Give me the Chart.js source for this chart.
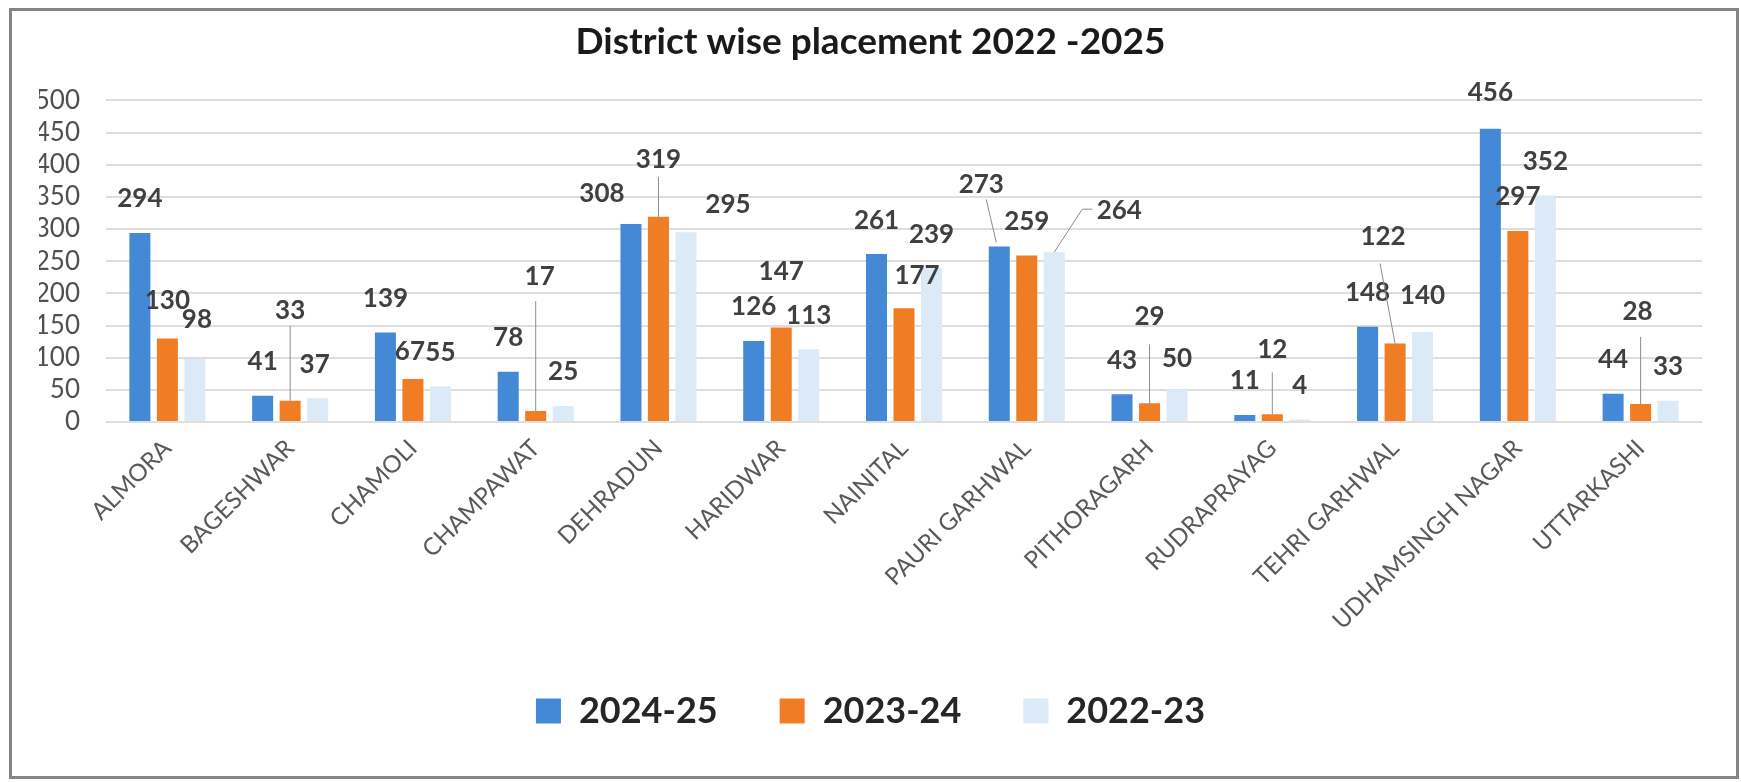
<!DOCTYPE html>
<html>
<head>
<meta charset="utf-8">
<title>District wise placement 2022 -2025</title>
<script src="https://cdn.jsdelivr.net/npm/chart.js@4.4.1/dist/chart.umd.min.js"></script>
<style>
  html, body { margin: 0; padding: 0; background: #ffffff; }
  #wrap { position: relative; width: 1741px; height: 782px; }
  canvas { display: block; }
</style>
</head>
<body>
<div id="wrap"><canvas id="chart" width="1741" height="782"></canvas></div>
<script>
// Districts on the x axis
const districts = [
  'ALMORA', 'BAGESHWAR', 'CHAMOLI', 'CHAMPAWAT', 'DEHRADUN', 'HARIDWAR',
  'NAINITAL', 'PAURI GARHWAL', 'PITHORAGARH', 'RUDRAPRAYAG', 'TEHRI GARHWAL',
  'UDHAMSINGH NAGAR', 'UTTARKASHI'
];

// Placements per year
const seriesNames = ['2024-25', '2023-24', '2022-23'];
const placed2024_25 = [294, 41, 139, 78, 308, 126, 261, 273, 43, 11, 148, 456, 44];
const placed2023_24 = [130, 33, 67, 17, 319, 147, 177, 259, 29, 12, 122, 297, 28];
const placed2022_23 = [98, 37, 55, 25, 295, 113, 239, 264, 50, 4, 140, 352, 33];

// Value axis
const yMin = 0;
const yMax = 500;
const yStep = 50;

const chartTitle = 'District wise placement 2022 -2025';

// Value-label placement, relative to the top centre of each bar
// (key = "series:index"; default sits 34px above the bar).
// Leader lines run from points near the label to the bar top.
const labelOffsets = {
  '1:0':  { dy: -38 },
  '2:0':  { dx: 2, dy: -39 },
  '1:1':  { dy: -90, leader: [[0, 15]] },
  '2:1':  { dx: -3 },
  '1:2':  { dx: -3, dy: -27 },
  '1:3':  { dx: 4, dy: -134, leader: [[-4, 24]] },
  '0:4':  { dx: -29, dy: -30 },
  '1:4':  { dy: -57, leader: [[0, 17]] },
  '2:4':  { dx: 42, dy: -28 },
  '1:5':  { dy: -56 },
  '1:6':  { dx: 13, dy: -33 },
  '0:7':  { dx: -18, dy: -62, leader: [[5, 15]], end: [-3, -4] },
  '2:7':  { dx: 65, dy: -42, leader: [[-27, -1], [-37, -1]] },
  '1:8':  { dy: -87, leader: [[0, 28]] },
  '2:8':  { dy: -31 },
  '1:9':  { dy: -65, leader: [[0, 23]] },
  '1:10': { dx: -12, dy: -107, leader: [[-3, 27]] },
  '2:10': { dy: -36 },
  '0:11': { dy: -36 },
  '1:12': { dx: -3, dy: -92, leader: [[3, 25]] }
};

const FONT = 'Lato, "Open Sans", "Liberation Sans", sans-serif';

const valueLabels = {
  id: 'valueLabels',
  afterDatasetsDraw(chart) {
    const ctx = chart.ctx;
    ctx.save();
    ctx.font = '700 26px ' + FONT;
    ctx.textAlign = 'center';
    ctx.textBaseline = 'middle';
    chart.data.datasets.forEach((ds, si) => {
      const meta = chart.getDatasetMeta(si);
      meta.data.forEach((bar, i) => {
        const o = labelOffsets[si + ':' + i] || {};
        const lx = bar.x + (o.dx ?? 0);
        const ly = bar.y + (o.dy ?? -34);
        if (o.leader) {
          const end = o.end || [0, 0];
          ctx.beginPath();
          ctx.strokeStyle = '#8c8c8c';
          ctx.lineWidth = 1;
          ctx.moveTo(lx + o.leader[0][0], ly + o.leader[0][1]);
          for (let k = 1; k < o.leader.length; k++) {
            ctx.lineTo(lx + o.leader[k][0], ly + o.leader[k][1]);
          }
          ctx.lineTo(bar.x + end[0], bar.y + end[1]);
          ctx.stroke();
        }
        ctx.fillStyle = '#404040';
        ctx.fillText(String(ds.data[i]), lx, ly);
      });
    });
    ctx.restore();
  }
};

const frame = {
  id: 'frame',
  beforeDraw(chart) {
    const ctx = chart.ctx;
    ctx.save();
    ctx.fillStyle = '#ffffff';
    ctx.fillRect(0, 0, chart.width, chart.height);
    ctx.restore();
  },
  afterDraw(chart) {
    const ctx = chart.ctx;
    ctx.save();
    ctx.strokeStyle = '#858585';
    ctx.lineWidth = 3;
    ctx.strokeRect(10.5, 9.5, 1727, 768);
    ctx.restore();
  }
};

const barColors = ['#4389d6', '#f07d23', '#dce9f6'];
const seriesData = [placed2024_25, placed2023_24, placed2022_23];

new Chart(document.getElementById('chart'), {
  type: 'bar',
  data: {
    labels: districts,
    datasets: seriesNames.map((name, k) => ({
      label: name,
      data: seriesData[k],
      backgroundColor: barColors[k],
      borderWidth: 0,
      categoryPercentage: 0.672,
      barPercentage: 0.764
    }))
  },
  options: {
    responsive: false,
    animation: false,
    devicePixelRatio: 1,
    layout: { padding: { top: 0, left: 39, right: 39, bottom: 43 } },
    plugins: {
      title: {
        display: true,
        text: chartTitle,
        color: '#1a1a1a',
        font: { family: FONT, size: 37, weight: 'bold' },
        padding: { top: 20, bottom: 36 }
      },
      legend: {
        position: 'bottom',
        labels: {
          color: '#262626',
          font: { family: FONT, size: 36, weight: 'bold' },
          boxWidth: 25,
          boxHeight: 25,
          padding: 62
        }
      },
      tooltip: { enabled: false }
    },
    scales: {
      x: {
        grid: { display: false, drawTicks: false },
        border: { display: false },
        ticks: {
          color: '#595959',
          font: { family: FONT, size: 24 },
          autoSkip: false,
          maxRotation: 45,
          minRotation: 45,
          padding: 12
        },
        afterFit(scale) { scale.height = 209; }
      },
      y: {
        min: yMin,
        max: yMax,
        grid: { color: '#dedede', lineWidth: 2, drawTicks: false },
        border: { display: false },
        ticks: {
          stepSize: yStep,
          autoSkip: false,
          color: '#505050',
          font: { family: FONT, size: 26 },
          padding: 26
        },
        afterFit(scale) { scale.width = 67; }
      }
    }
  },
  plugins: [frame, valueLabels]
});
</script>
</body>
</html>
